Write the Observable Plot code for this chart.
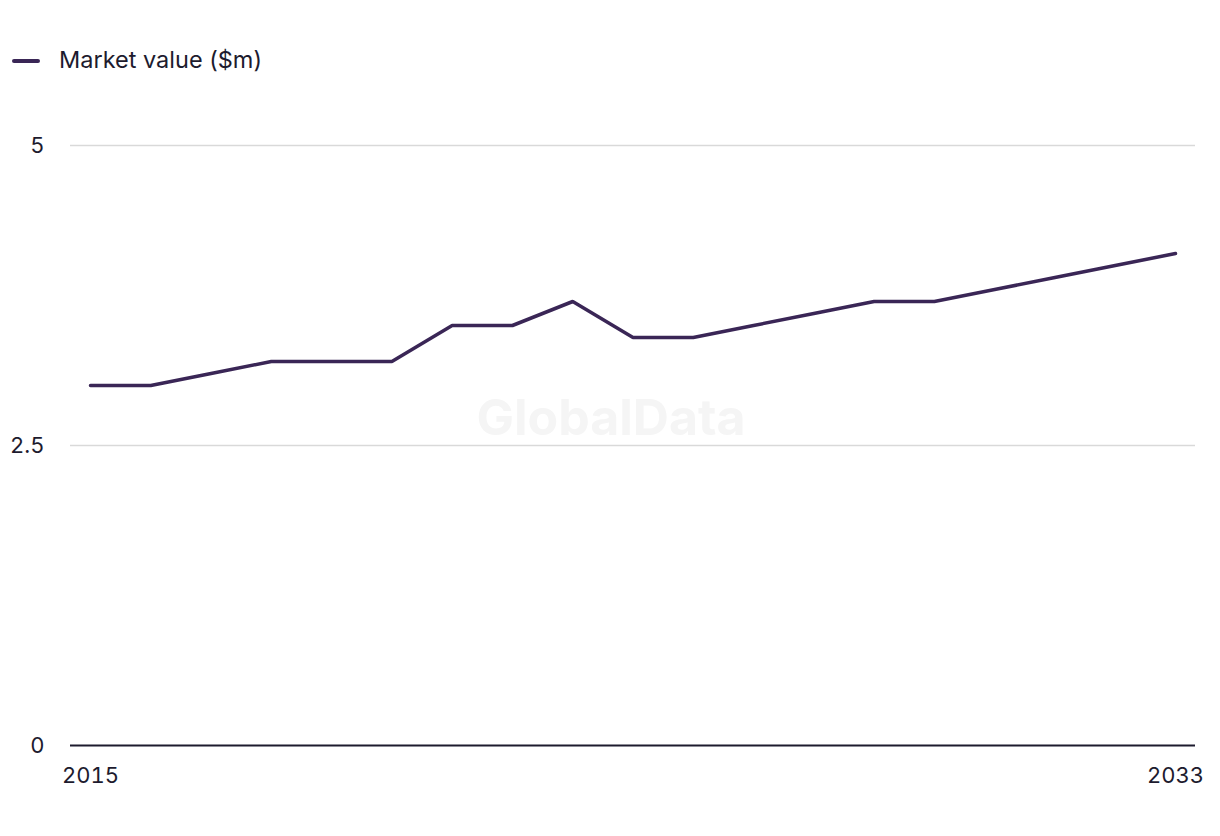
<!DOCTYPE html>
<html>
<head>
<meta charset="utf-8">
<script src="https://cdn.jsdelivr.net/npm/d3@7"></script>
<script src="https://cdn.jsdelivr.net/npm/@observablehq/plot@0.6"></script>
<style>
  html, body { margin: 0; padding: 0; background: #fff; }
  body { width: 1220px; height: 836px; overflow: hidden; font-family: "Inter", "Roboto", sans-serif; color: #1d1b2e; }
  #legend { height: 100px; position: relative; }
  #legend .sw { position: absolute; left: 12px; top: 59px; width: 28px; height: 4px; border-radius: 2px; background: #3a2656; }
  #legend .lb { position: absolute; left: 59px; top: 45px; font-size: 23.5px; line-height: 30px; color: #1d1b2e; }
</style>
</head>
<body>
<div id="legend"><span class="sw"></span><span class="lb">Market value ($m)</span></div>
<div id="chart"></div>
<script>
const years = [2015,2016,2017,2018,2019,2020,2021,2022,2023,2024,2025,2026,2027,2028,2029,2030,2031,2032,2033];
const values = [3.0,3.0,3.1,3.2,3.2,3.2,3.5,3.5,3.7,3.4,3.4,3.5,3.6,3.7,3.7,3.8,3.9,4.0,4.1];
const yTicks = [0, 2.5, 5];
const xTicks = [2015, 2033];
const seriesName = "Market value ($m)";

const data = years.map((y, i) => ({year: y, value: values[i]}));

const chart = Plot.plot({
  width: 1220,
  height: 736,
  marginTop: 45,
  marginBottom: 91,
  marginLeft: 70,
  marginRight: 25,
  style: {fontFamily: "Inter, Roboto, sans-serif", fontSize: "22px", color: "#1d1b2e", background: "#fff"},
  x: {domain: [2015, 2033], inset: 20, ticks: xTicks, tickFormat: d => String(d), tickSize: 0, tickPadding: 22, label: null},
  y: {domain: [0, 5], ticks: yTicks, tickFormat: d => String(d), tickSize: 0, tickPadding: 26, label: null},
  marks: [
    Plot.gridY(yTicks.filter(d => d !== 0), {stroke: "#d9d9d9", strokeOpacity: 1, strokeWidth: 1.5}),
    Plot.text([seriesName], {text: () => "GlobalData", frameAnchor: "middle", dx: -22, dy: -27, fontSize: 50, fontWeight: "bold", fill: "#f5f5f5"}),
    Plot.ruleY([0], {stroke: "#1d1b2e", strokeWidth: 2}),
    Plot.axisY({ticks: yTicks, tickSize: 0, tickPadding: 26, tickFormat: d => String(d), fontSize: 22}),
    Plot.axisX({ticks: xTicks, tickSize: 0, tickPadding: 22, tickFormat: d => String(d), fontSize: 22}),
    Plot.line(data, {x: "year", y: "value", stroke: "#3a2656", strokeWidth: 3.5, strokeLinejoin: "miter"})
  ]
});
document.getElementById("chart").appendChild(chart);
</script>
</body>
</html>
